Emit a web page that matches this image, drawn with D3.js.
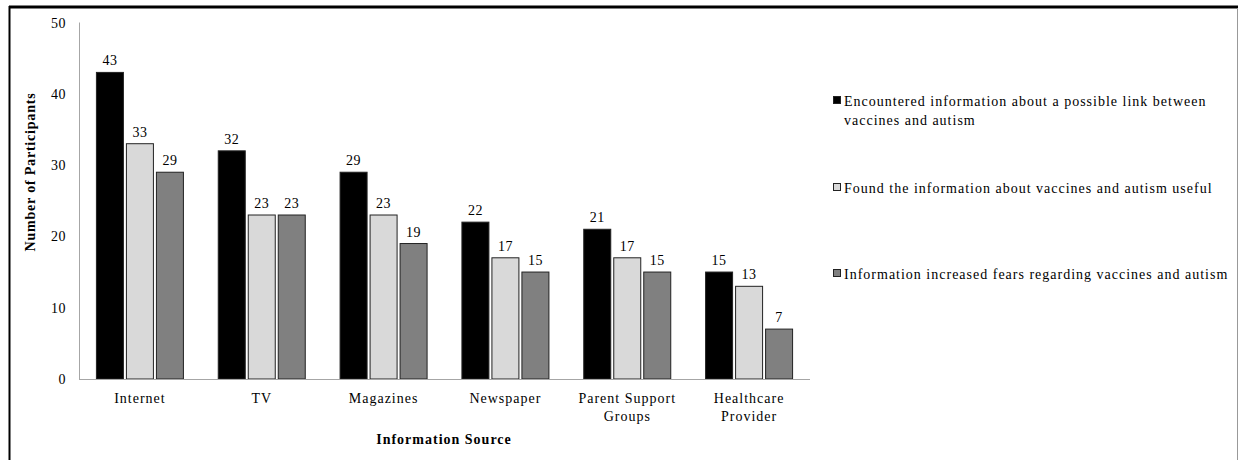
<!DOCTYPE html>
<html><head><meta charset="utf-8">
<script src="https://cdn.jsdelivr.net/npm/d3@7"></script>
<style>body{margin:0;background:#fff}svg{display:block}text{font-family:"Liberation Serif","Times New Roman",serif;fill:#000}</style>
</head><body>
<script>
const categories = [["Internet"],["TV"],["Magazines"],["Newspaper"],["Parent Support","Groups"],["Healthcare","Provider"]];
const seriesNames = [["Encountered information about a possible link between","vaccines and autism"],["Found the information about vaccines and autism useful"],["Information increased fears regarding vaccines and autism"]];
const encountered = [43,32,29,22,21,15];
const useful = [33,23,23,17,17,13];
const fears = [29,23,19,15,15,7];
const yTicks = [0,10,20,30,40,50];
const colors = ["#000000","#d9d9d9","#808080"];
const series = [encountered, useful, fears];

const W=1238,H=460;
const svg=d3.select("body").append("svg").attr("width",W).attr("height",H);
// border
svg.append("line").attr("x1",9).attr("x2",1238).attr("y1",7).attr("y2",7).attr("stroke","#000").attr("stroke-width",3);
svg.append("line").attr("x1",9.5).attr("x2",9.5).attr("y1",6).attr("y2",460).attr("stroke","#000").attr("stroke-width",2);
svg.append("line").attr("x1",1237.5).attr("x2",1237.5).attr("y1",8).attr("y2",460).attr("stroke","#999").attr("stroke-width",1);

const x0=d3.scaleBand().domain(d3.range(categories.length)).range([79,810]).paddingInner(0).paddingOuter(0);
const y=d3.scaleLinear().domain([0,50]).range([379,22.5]);
const bw=27, gap=3, gw=3*bw+2*gap;

// y axis line
svg.append("line").attr("x1",79.5).attr("x2",79.5).attr("y1",y(50)).attr("y2",y(0)).attr("stroke","#a6a6a6");
svg.selectAll(".yt").data(yTicks).join("text").attr("x",66).attr("y",d=>y(d)+5).attr("text-anchor","end").attr("font-size",14).attr("letter-spacing",0.5).text(d=>d);

series.forEach((s,si)=>{
  const g=svg.append("g");
  g.selectAll("rect").data(s).join("rect")
    .attr("x",(d,i)=>x0(i)+x0.bandwidth()/2-gw/2+si*(bw+gap))
    .attr("y",d=>y(d)).attr("width",bw).attr("height",d=>y(0)-y(d))
    .attr("fill",colors[si]).attr("stroke","#222").attr("stroke-width",1);
  g.selectAll("text").data(s).join("text")
    .attr("x",(d,i)=>x0(i)+x0.bandwidth()/2-gw/2+si*(bw+gap)+bw/2)
    .attr("y",d=>y(d)-7).attr("text-anchor","middle").attr("font-size",14).attr("letter-spacing",0.5).text(d=>d);
});
// x axis line
svg.append("line").attr("x1",79).attr("x2",810).attr("y1",379.5).attr("y2",379.5).attr("stroke","#a6a6a6");
categories.forEach((c,i)=>{
  c.forEach((t,j)=>svg.append("text").attr("x",x0(i)+x0.bandwidth()/2).attr("y",403+j*18).attr("text-anchor","middle").attr("font-size",14).attr("letter-spacing",1).text(t));
});
svg.append("text").attr("x",444).attr("y",444).attr("text-anchor","middle").attr("font-size",14).attr("font-weight","bold").attr("letter-spacing",1).text("Information  Source");
svg.append("text").attr("transform","translate(35,172) rotate(-90)").attr("text-anchor","middle").attr("font-size",14).attr("font-weight","bold").attr("letter-spacing",0.8).text("Number  of Participants");

// legend
const ly=[106,193,279];
seriesNames.forEach((n,i)=>{
  svg.append("rect").attr("x",833.5).attr("y",ly[i]-9.5).attr("width",7).attr("height",7).attr("fill",colors[i]).attr("stroke","#222");
  n.forEach((t,j)=>svg.append("text").attr("x",844).attr("y",ly[i]+j*19).attr("font-size",14).attr("letter-spacing",1).text(t));
});
</script>
</body></html>
